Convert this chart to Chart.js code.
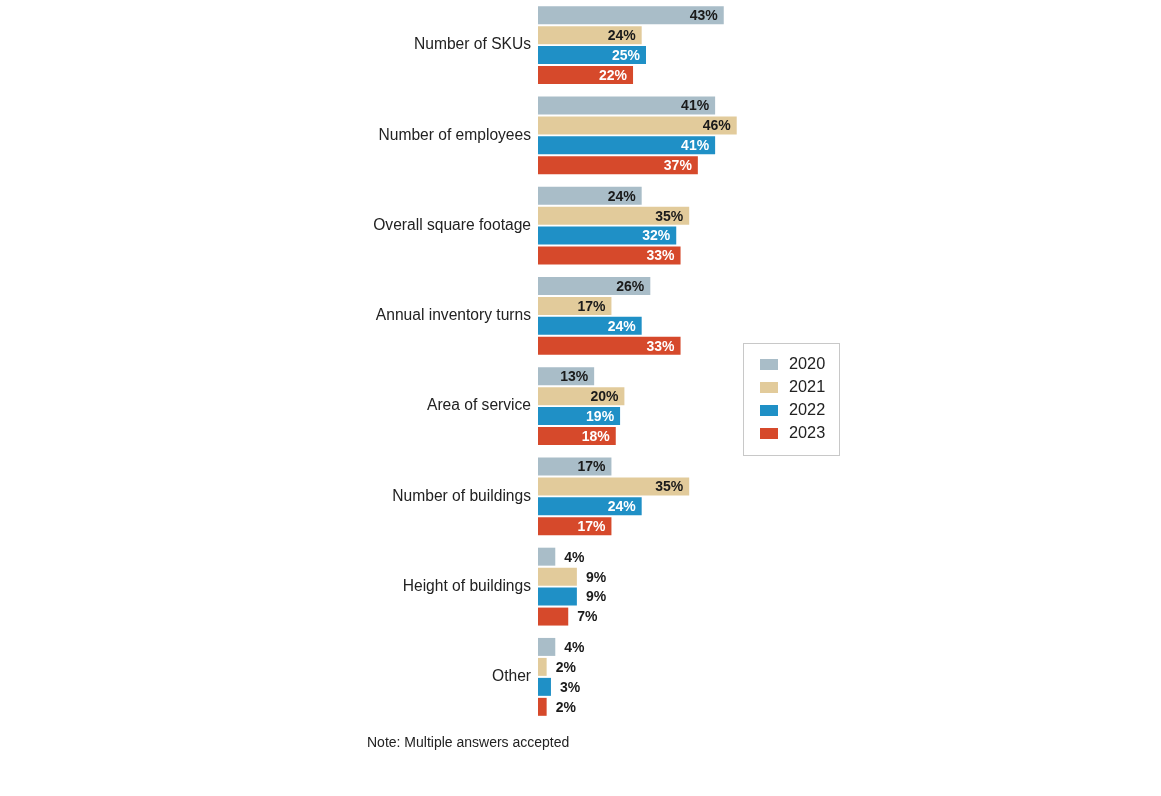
<!DOCTYPE html>
<html>
<head>
<meta charset="utf-8">
<script src="https://cdn.jsdelivr.net/npm/chart.js@4.4.1/dist/chart.umd.min.js"></script>
<style>
  html, body { margin: 0; padding: 0; background: #fff; }
  #wrap { position: relative; width: 1161px; height: 796px; }
  #note {
    position: absolute; left: 367px; top: 734px;
    font: 14px "Liberation Sans", Arial, sans-serif; color: #222;
  }
</style>
</head>
<body>
<div id="wrap">
  <canvas id="bar-chart" width="1161" height="796"></canvas>
  <div id="note">Note: Multiple answers accepted</div>
</div>
<script>
const categories = [
  "Number of SKUs",
  "Number of employees",
  "Overall square footage",
  "Annual inventory turns",
  "Area of service",
  "Number of buildings",
  "Height of buildings",
  "Other",
];
const years = ["2020", "2021", "2022", "2023"];
const values2020 = [43, 41, 24, 26, 13, 17, 4, 4];
const values2021 = [24, 46, 35, 17, 20, 35, 9, 2];
const values2022 = [25, 41, 32, 24, 19, 24, 9, 3];
const values2023 = [22, 37, 33, 33, 18, 17, 7, 2];

const colors = ["#a9bdc8", "#e2cb9b", "#1f90c6", "#d6492b"];
const labelColors = ["#1a1a1a", "#1a1a1a", "#ffffff", "#ffffff"];
const FONT = '"Liberation Sans", Arial, sans-serif';

const datasets = [values2020, values2021, values2022, values2023].map((data, i) => ({
  label: years[i],
  data: data,
  backgroundColor: colors[i],
  barPercentage: 0.9,
  categoryPercentage: 0.885,
}));

// value labels at the bar ends
const valueLabels = {
  id: "valueLabels",
  afterDatasetsDraw(chart) {
    const ctx = chart.ctx;
    ctx.save();
    ctx.font = "bold 14px " + FONT;
    ctx.textBaseline = "middle";
    chart.data.datasets.forEach((ds, i) => {
      const meta = chart.getDatasetMeta(i);
      meta.data.forEach((bar, j) => {
        const v = ds.data[j];
        const text = v + "%";
        if (v >= 10) {
          ctx.fillStyle = labelColors[i];
          ctx.textAlign = "right";
          ctx.fillText(text, bar.x - 6, bar.y + 1);
        } else {
          ctx.fillStyle = "#1a1a1a";
          ctx.textAlign = "left";
          ctx.fillText(text, bar.x + 9, bar.y + 1);
        }
      });
    });
    ctx.restore();
  },
};

// boxed legend in the middle right
const boxLegend = {
  id: "boxLegend",
  afterDraw(chart) {
    const ctx = chart.ctx;
    const x0 = 743.5, y0 = 343.5, w = 96, h = 112;
    ctx.save();
    ctx.fillStyle = "#fff";
    ctx.fillRect(x0, y0, w, h);
    ctx.strokeStyle = "#c8c8c8";
    ctx.lineWidth = 1;
    ctx.strokeRect(x0, y0, w, h);
    ctx.font = "16.3px " + FONT;
    ctx.textBaseline = "middle";
    ctx.textAlign = "left";
    chart.data.datasets.forEach((ds, i) => {
      const y = 364 + i * 23;
      ctx.fillStyle = ds.backgroundColor;
      ctx.fillRect(760, y - 5, 18, 11);
      ctx.fillStyle = "#222";
      ctx.fillText(ds.label, 789, y + 1);
    });
    ctx.restore();
  },
};

new Chart(document.getElementById("bar-chart").getContext("2d"), {
  type: "bar",
  data: { labels: categories, datasets: datasets },
  options: {
    indexAxis: "y",
    responsive: false,
    animation: false,
    layout: { padding: { left: 0, right: 407, top: 0, bottom: 74 } },
    plugins: {
      legend: { display: false },
      tooltip: { enabled: false },
    },
    scales: {
      x: { display: false, min: 0, max: 50 },
      y: {
        afterFit(scale) {
          scale.width = 538;
          scale.paddingTop = 0;
          scale.paddingBottom = 0;
        },
        grid: { display: false, drawTicks: false },
        border: { display: false },
        ticks: {
          padding: 7,
          color: "#222",
          font: { family: FONT, size: 15.6 },
        },
      },
    },
  },
  plugins: [valueLabels, boxLegend],
});
</script>
</body>
</html>
